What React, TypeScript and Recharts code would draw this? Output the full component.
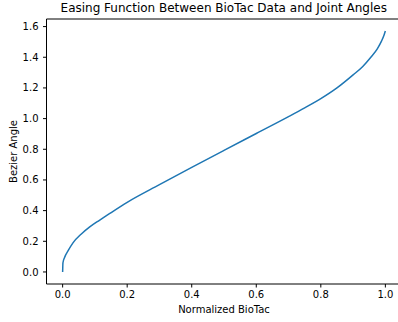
import React from "react";
import { LineChart, Line, XAxis, YAxis, ReferenceLine, Label } from "recharts";

const normalizedBioTac = [0, 0.001, 0.006, 0.017, 0.032, 0.058, 0.083, 0.114, 0.145, 0.2, 0.3, 0.4, 0.5, 0.6, 0.7, 0.75, 0.8, 0.85, 0.9, 0.93, 0.955, 0.975, 0.988, 0.996, 1.0];
const bezierAngle = [0, 0.06, 0.095, 0.139, 0.19, 0.248, 0.292, 0.337, 0.38, 0.454, 0.569, 0.682, 0.793, 0.903, 1.013, 1.07, 1.13, 1.2, 1.285, 1.34, 1.4, 1.455, 1.505, 1.545, 1.571];
const xTicks = [0, 0.2, 0.4, 0.6, 0.8, 1.0];
const yTicks = [0, 0.2, 0.4, 0.6, 0.8, 1.0, 1.2, 1.4, 1.6];

const data = normalizedBioTac.map((x, i) => ({ x, y: bezierAngle[i] }));

const FONT = "DejaVu Sans";
const tickStyle = { fontFamily: FONT, fontSize: 10, fill: "#000" };

export default function App() {
  return (
    <div style={{ position: "fixed", left: 0, top: 0, width: 398, height: 322, background: "#fff", overflow: "hidden" }}>
      <div
        style={{
          position: "absolute",
          left: 46,
          width: 355.5,
          top: 0,
          textAlign: "center",
          fontFamily: FONT,
          fontSize: 12,
          lineHeight: "16px",
          color: "#000",
          whiteSpace: "nowrap",
        }}
      >
        Easing Function Between BioTac Data and Joint Angles
      </div>
      <LineChart width={404} height={322} data={data} margin={{ top: 19, right: 2.5, bottom: 0, left: 0.5 }}>
        <XAxis
          dataKey="x"
          type="number"
          domain={[-0.05, 1.05]}
          ticks={xTicks}
          tickFormatter={(v: number) => v.toFixed(1)}
          tick={tickStyle}
          tickSize={3.5}
          tickMargin={3.5}
          stroke="#000"
          height={38}
          allowDataOverflow
        >
          <Label value="Normalized BioTac" position="insideBottom" offset={9} style={{ fontFamily: FONT, fontSize: 10, fill: "#000" }} />
        </XAxis>
        <YAxis
          type="number"
          domain={[-0.0785, 1.6495]}
          ticks={yTicks}
          tickFormatter={(v: number) => v.toFixed(1)}
          tick={tickStyle}
          tickSize={3.5}
          tickMargin={4.5}
          stroke="#000"
          width={46}
          allowDataOverflow
        >
          <Label value="Bezier Angle" angle={-90} position="insideLeft" offset={13} style={{ fontFamily: FONT, fontSize: 10, fill: "#000", textAnchor: "middle" }} />
        </YAxis>
        <ReferenceLine y={1.6495} stroke="#000" strokeWidth={1} ifOverflow="extendDomain" />
        <ReferenceLine x={1.05} stroke="#000" strokeWidth={1} ifOverflow="extendDomain" />
        <Line type="monotone" dataKey="y" stroke="#1f77b4" strokeWidth={1.5} dot={false} isAnimationActive={false} />
      </LineChart>
    </div>
  );
}
